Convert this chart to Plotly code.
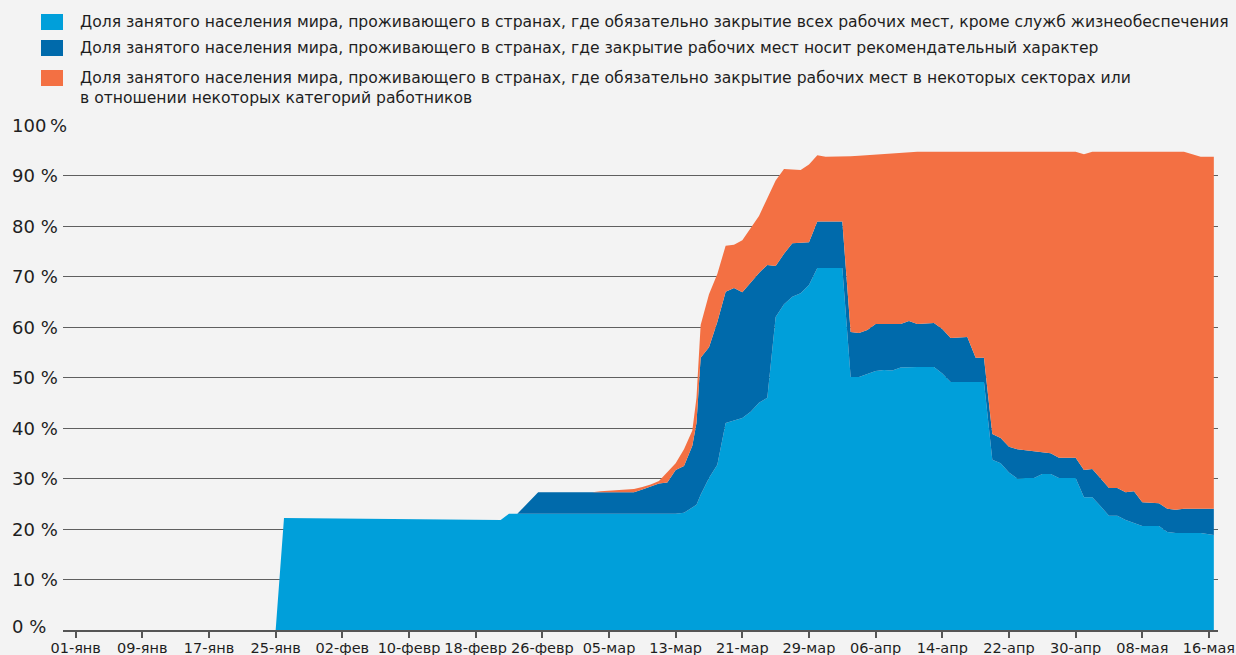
import plotly.graph_objects as go

# ---------------- data (shares of world employment, %) ----------------
dates = [
    "2020-01-01", "2020-01-25", "2020-01-26", "2020-02-08", "2020-02-21",
    "2020-02-22", "2020-02-23", "2020-02-25 12:00", "2020-03-03", "2020-03-04",
    "2020-03-06", "2020-03-08", "2020-03-09", "2020-03-10", "2020-03-11",
    "2020-03-12", "2020-03-13", "2020-03-14", "2020-03-15", "2020-03-15 12:00",
    "2020-03-16", "2020-03-17", "2020-03-18", "2020-03-19", "2020-03-20",
    "2020-03-21", "2020-03-22", "2020-03-23", "2020-03-24", "2020-03-25",
    "2020-03-26", "2020-03-27", "2020-03-28", "2020-03-29", "2020-03-30",
    "2020-03-31", "2020-04-02", "2020-04-03", "2020-04-04", "2020-04-05",
    "2020-04-06", "2020-04-07", "2020-04-08", "2020-04-09", "2020-04-10",
    "2020-04-11", "2020-04-13", "2020-04-14", "2020-04-15", "2020-04-17",
    "2020-04-18", "2020-04-19", "2020-04-20", "2020-04-21", "2020-04-22",
    "2020-04-23", "2020-04-24", "2020-04-25", "2020-04-26", "2020-04-27",
    "2020-04-28", "2020-04-30", "2020-05-01", "2020-05-02", "2020-05-03",
    "2020-05-04", "2020-05-05", "2020-05-06", "2020-05-07", "2020-05-08",
    "2020-05-10", "2020-05-11", "2020-05-12", "2020-05-13", "2020-05-14",
    "2020-05-15", "2020-05-16 14:00",
]

required_all = [
    0, 0, 22.2, 22.0, 21.8,
    23.0, 23.0, 23.0, 23.0, 23.0,
    23.0, 23.0, 23.0, 23.0, 23.0,
    23.0, 23.0, 23.2, 24.2, 24.8,
    26.8, 30.1, 32.7, 41.0, 41.5,
    42.0, 43.2, 45.0, 46.0, 62.0,
    64.5, 66.0, 66.7, 68.3, 71.7,
    71.7, 71.7, 50.1, 50.1, 50.7,
    51.3, 51.5, 51.4, 52.0, 52.1,
    52.1, 52.1, 50.8, 49.1, 49.1,
    49.1, 49.1, 33.7, 33.0, 31.2,
    30.0, 30.1, 30.1, 30.9, 30.9,
    30.1, 30.1, 26.3, 26.3, 24.5,
    22.6, 22.6, 21.8, 21.2, 20.6,
    20.6, 19.4, 19.2, 19.2, 19.2,
    19.2, 18.8,
]

recommended = [
    0, 0, 0, 0, 0,
    0, 0, 4.3, 4.3, 4.3,
    4.3, 4.3, 4.8, 5.4, 6.0,
    6.2, 8.7, 9.3, 12.3, 16.2,
    27.1, 25.9, 28.3, 26.0, 26.2,
    24.9, 25.7, 25.7, 26.3, 10.1,
    10.0, 10.6, 10.0, 8.5, 9.2,
    9.2, 9.2, 8.9, 8.7, 8.7,
    9.3, 9.1, 9.2, 8.6, 9.1,
    8.5, 8.7, 8.8, 8.7, 8.9,
    4.8, 4.8, 5.1, 5.0, 5.1,
    5.8, 5.5, 5.3, 4.3, 4.1,
    4.0, 4.0, 5.4, 5.6, 5.5,
    5.5, 5.5, 5.5, 6.3, 4.7,
    4.5, 4.6, 4.6, 4.8, 4.8,
    4.8, 5.2,
]

required_some = [
    0, 0, 0, 0, 0,
    0, 0, 0, 0, 0.2,
    0.4, 0.6, 0.5, 0.4, 0.5,
    2.1, 1.3, 3.3, 3.0, 5.0,
    6.5, 10.5, 9.5, 9.1, 8.6,
    10.3, 10.6, 11.3, 13.2, 16.9,
    16.8, 14.6, 14.4, 15.4, 13.1,
    12.8, 12.8, 34.8, 35.1, 34.6,
    33.5, 33.6, 33.7, 33.8, 33.3,
    34.1, 33.9, 35.1, 36.9, 36.7,
    40.8, 40.8, 55.9, 56.7, 58.4,
    58.9, 59.1, 59.3, 59.5, 59.7,
    60.6, 60.6, 62.5, 62.8, 64.7,
    66.6, 66.6, 67.4, 67.2, 69.4,
    69.6, 70.7, 70.9, 70.7, 70.2,
    69.7, 69.7,
]

series_names = [
    "Доля занятого населения мира, проживающего в странах, где обязательно закрытие всех рабочих мест, кроме служб жизнеобеспечения",
    "Доля занятого населения мира, проживающего в странах, где закрытие рабочих мест носит рекомендательный характер",
    "Доля занятого населения мира, проживающего в странах, где обязательно закрытие рабочих мест в некоторых секторах или<br>в отношении некоторых категорий работников",
]
series_colors = ["#009fda", "#006aab", "#f37043"]

tick_dates = [
    "2020-01-01", "2020-01-09", "2020-01-17", "2020-01-25", "2020-02-02",
    "2020-02-10", "2020-02-18", "2020-02-26", "2020-03-05", "2020-03-13",
    "2020-03-21", "2020-03-29", "2020-04-06", "2020-04-14", "2020-04-22",
    "2020-04-30", "2020-05-08", "2020-05-16",
]
tick_labels = [
    "01-янв", "09-янв", "17-янв", "25-янв", "02-фев",
    "10-февр", "18-февр", "26-февр", "05-мар", "13-мар",
    "21-мар", "29-мар", "06-апр", "14-апр", "22-апр",
    "30-апр", "08-мая", "16-мая",
]
y_ticks = [0, 10, 20, 30, 40, 50, 60, 70, 80, 90, 100]
y_labels = [("100\u2009%" if v == 100 else f"{v} %") for v in y_ticks]

# ---------------- layout geometry ----------------
W, H = 1236, 655
ML, MR, MT, MB = 63, 18, 125, 25
PW, PH = W - ML - MR, H - MT - MB
FONT = "DejaVu Sans"
TXT = "#1e1e1e"


def fx(px):
    return (px - ML) / PW


def fy(py):
    return (H - MB - py) / PH


fig = go.Figure()
for vals, name, col in zip([required_all, recommended, required_some], series_names, series_colors):
    fig.add_trace(go.Scatter(
        x=dates, y=vals, name=name, stackgroup="one", mode="lines",
        line=dict(width=0, color=col), fillcolor=col, showlegend=False,
        hoverinfo="skip",
    ))

shapes = []
annotations = []
# manual legend
legend_rows = [(22, 22), (48, 48), (78, 88)]  # (square centre y, text centre y)
for (sq_y, tx_y), name, col in zip(legend_rows, series_names, series_colors):
    shapes.append(dict(type="rect", xref="paper", yref="paper",
                       x0=fx(41), x1=fx(63), y0=fy(sq_y + 8), y1=fy(sq_y - 8),
                       fillcolor=col, line=dict(width=0)))
    annotations.append(dict(xref="paper", yref="paper", x=fx(78), y=fy(tx_y),
                            xanchor="left", yanchor="middle", align="left",
                            text=name, showarrow=False,
                            font=dict(family=FONT, size=15.6, color=TXT)))

# y tick labels (left aligned)
for v, lab in zip(y_ticks, y_labels):
    annotations.append(dict(xref="paper", yref="y", x=fx(10), y=v,
                            xanchor="left", yanchor="middle", text=lab,
                            showarrow=False, yshift=4 if v == 0 else 0,
                            font=dict(family=FONT, size=18, color=TXT)))

fig.update_layout(
    width=W, height=H,
    margin=dict(l=ML, r=MR, t=MT, b=MB, pad=0),
    paper_bgcolor="#f3f3f3", plot_bgcolor="#f3f3f3",
    font=dict(family=FONT, color=TXT),
    shapes=shapes, annotations=annotations,
    xaxis=dict(
        type="date", range=["2019-12-30 11:30", "2020-05-17 02:00"],
        tickmode="array", tickvals=tick_dates, ticktext=tick_labels,
        tickangle=0,
        ticks="outside", ticklen=6, tickwidth=1.5, tickcolor="#555555",
        ticklabelstandoff=-2,
        showline=True, linecolor="#555555", linewidth=2,
        showgrid=False, zeroline=False, automargin=False,
        tickfont=dict(family=FONT, size=14.5, color=TXT),
    ),
    yaxis=dict(
        range=[0, 100], tickmode="array", tickvals=y_ticks,
        showticklabels=False, ticks="",
        showgrid=True, gridcolor="#5f5f5f", gridwidth=1.3,
        zeroline=False, showline=False, automargin=False,
    ),
)

fig.write_html("out.html", config={"displayModeBar": False},
               post_script="document.body.style.margin='0';")
